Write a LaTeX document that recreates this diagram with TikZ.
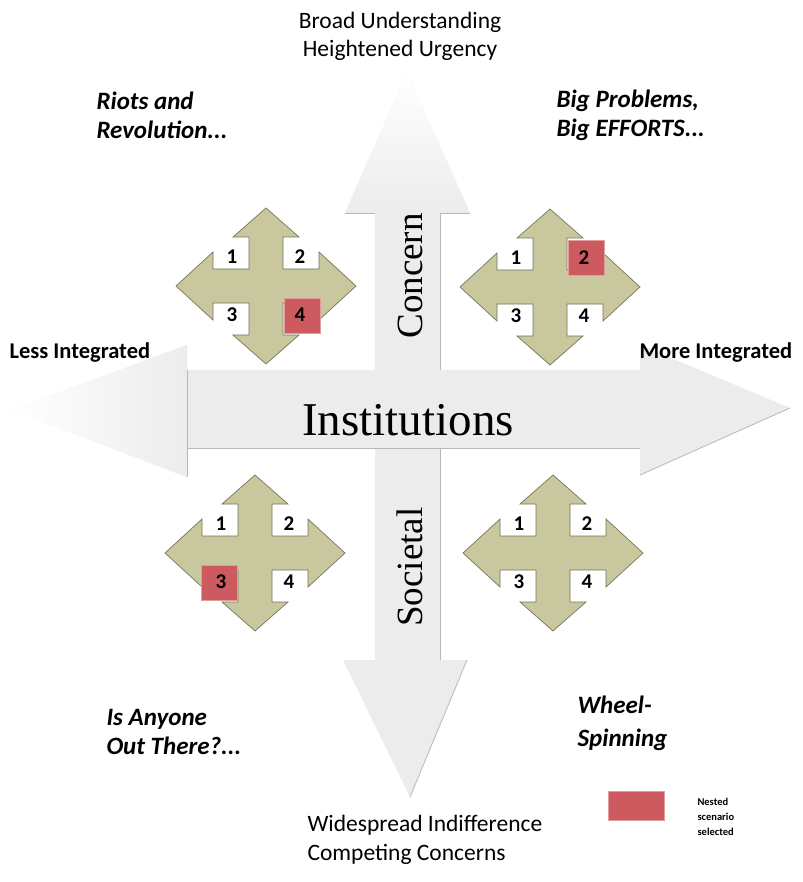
\documentclass[tikz,border=0pt]{standalone}
\usepackage{fontspec}
\newfontfamily\calib{Carlito}
\newfontfamily\bookserif{Liberation Serif}
\definecolor{khaki}{RGB}{200,199,158}
\definecolor{khakiedge}{RGB}{120,118,90}
\definecolor{selred}{RGB}{204,90,94}
\definecolor{paleshaft}{RGB}{236,236,236}
\begin{document}
\begin{tikzpicture}[x=1pt,y=-1pt,
  edge/.style={draw=black!28,line width=0.8pt},
  cross/.style={fill=khaki,draw=khakiedge,line width=0.7pt},
  numbox/.style={fill=white},
  selbox/.style={fill=selred,draw=selred!60,line width=0.6pt},
  num/.style={font=\calib\bfseries\fontsize{21}{21}\selectfont},
  caption/.style={font=\calib\fontsize{23.5}{29}\selectfont,align=left,anchor=west},
  boldcap/.style={font=\calib\bfseries\fontsize{22.5}{29}\selectfont,anchor=west},
  scenario/.style={font=\calib\bfseries\itshape\fontsize{25}{29}\selectfont,align=left,anchor=west},
  axisname/.style={font=\bookserif\fontsize{37}{37}\selectfont,rotate=90}]
  \useasboundingbox[fill=white] (0,0) rectangle (802,882);
  % the large faded cross
  \fill[paleshaft] (407,73) -- (470,213) -- (440,213) -- (440,370) -- (640,370)
    -- (640,345) -- (790,408) -- (640,475) -- (640,448) -- (440,448) -- (440,660)
    -- (467,660) -- (410,797) -- (343,660) -- (375,660) -- (375,448) -- (187,448)
    -- (187,477) -- (12,410) -- (187,345) -- (187,370) -- (375,370) -- (375,213)
    -- (345,213) -- cycle;
  \shade[left color=white,right color=paleshaft] (12,410) -- (187,345) -- (187,477) -- cycle;
  \shade[top color=white,bottom color=paleshaft] (407,73) -- (470,213) -- (345,213) -- cycle;
  \draw[edge] (345,213) -- (375,213) (440,213) -- (470,213);
  \draw[edge] (440,213) -- (440,370) (440,448) -- (440,660);
  \draw[edge] (187,370) -- (187,477) (187,448) -- (640,448);
  \draw[edge] (640,475) -- (790,408) (467,660) -- (410,797);
  % the four small crosses, selected box in red
  \foreach \cx/\cy/\nm/\sel in {266/286/tl/4,550/287/tr/2,255/553/bl/3,553/553/br/0}{
    \begin{scope}[shift={(\cx,\cy)}]
      \foreach \k/\sx/\sy in {1/-1/-1,2/1/-1,3/-1/1,4/1/1}{
        \ifnum\k=\sel\else
          \fill[numbox] (17*\sx,16*\sy) rectangle (54*\sx,46*\sy);
        \fi}
      \draw[cross] (0,-78) -- (33,-49) -- (17,-49) -- (17,-17) -- (53,-17)
        -- (53,-34) -- (90,0) -- (53,34) -- (53,17) -- (17,17) -- (17,49)
        -- (33,49) -- (0,78) -- (-33,49) -- (-17,49) -- (-17,17) -- (-53,17)
        -- (-53,34) -- (-90,0) -- (-53,-34) -- (-53,-17) -- (-17,-17)
        -- (-17,-49) -- (-33,-49) -- cycle;
      \foreach \k/\sx/\sy in {1/-1/-1,2/1/-1,3/-1/1,4/1/1}{
        \ifnum\k=\sel
          \filldraw[selbox] (18*\sx,12*\sy) rectangle (54*\sx,47*\sy);
        \fi
        \node[num] (\nm-\k) at (34*\sx,29*\sy) {\k};}
    \end{scope}}
  % axis and quadrant texts
  \node[font=\calib\fontsize{23.5}{28}\selectfont,align=center] (upper) at (400,36)
    {Broad Understanding\\Heightened Urgency};
  \node[caption] (lower) at (304,840) {Widespread Indifference\\Competing Concerns};
  \node[boldcap] (less) at (6,353) {Less Integrated};
  \node[boldcap] (more) at (636,353) {More Integrated};
  \node[font=\bookserif\fontsize{47}{47}\selectfont] (inst) at (408,420) {Institutions};
  \node[axisname] (concern) at (410,276) {Concern};
  \node[axisname] (societal) at (410,567) {Societal};
  \node[scenario] (riots) at (93,115) {Riots and\\Revolution...};
  \node[scenario] (bigprob) at (553,115) {Big Problems,\\Big EFFORTS...};
  \node[scenario] (anyone) at (103,732) {Is Anyone\\Out There?...};
  \node[scenario,font=\calib\bfseries\itshape\fontsize{25}{33}\selectfont] (wheel) at (574,723) {Wheel-\\Spinning};
  % legend
  \filldraw[selbox] (608,791) rectangle (664,820);
  \node[font=\calib\bfseries\fontsize{10.5}{15}\selectfont,align=left,anchor=west] (legend) at (694,817)
    {Nested\\scenario\\selected};
\end{tikzpicture}
\end{document}
